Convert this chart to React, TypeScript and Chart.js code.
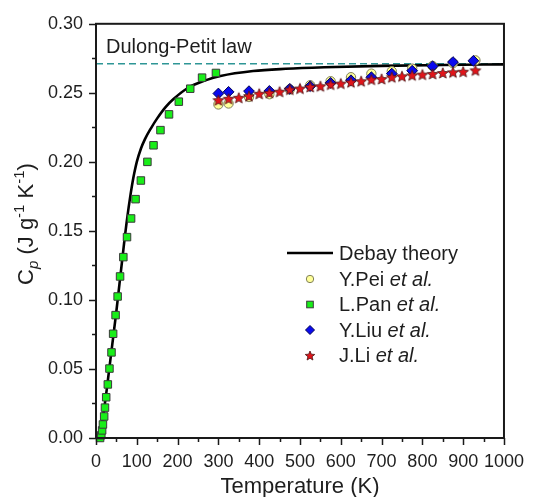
import React, { useEffect, useRef } from "react";
import { Chart, registerables } from "chart.js";

Chart.register(...registerables);

// ---------- data ----------
const debyeT = [0, 5, 10, 15, 20, 25, 30, 35, 40, 45, 50, 55, 60, 65, 70, 75, 80, 85, 90, 95, 100, 110, 120, 135, 150, 170, 190, 225, 270, 305, 385, 465, 560, 700, 850, 1000];
const debyeCp = [0, 0.0005, 0.004, 0.011, 0.021, 0.032, 0.044, 0.056, 0.068, 0.08, 0.092, 0.105, 0.118, 0.131, 0.144, 0.156, 0.167, 0.177, 0.186, 0.1935, 0.2, 0.2095, 0.2165, 0.2245, 0.2315, 0.2395, 0.2455, 0.2535, 0.2592, 0.2622, 0.2658, 0.2674, 0.2685, 0.2695, 0.2702, 0.2706];

const dulongPetitValue = 0.271;
const dulongPetitRange = [0, 1000];

const peiT = [300, 325, 375, 425, 475, 525, 575, 625, 675, 725, 775, 825, 875, 930];
const peiCp = [0.2416, 0.2423, 0.247, 0.249, 0.2525, 0.2555, 0.2584, 0.2613, 0.2639, 0.2656, 0.2675, 0.2695, 0.2715, 0.2735];

const panT = [10, 13, 15, 17, 20, 22, 25, 29, 33, 38, 42, 48, 53, 59, 67, 76, 86, 97, 110, 126, 141, 158, 179, 203, 231, 260, 294];
const panCp = [0.0, 0.002, 0.0055, 0.0098, 0.0156, 0.022, 0.0295, 0.0388, 0.0503, 0.062, 0.0755, 0.089, 0.1025, 0.117, 0.131, 0.1455, 0.159, 0.173, 0.1865, 0.2, 0.212, 0.223, 0.2344, 0.2436, 0.253, 0.261, 0.2644];

const liuT = [300, 325, 375, 425, 475, 525, 575, 625, 675, 725, 775, 825, 875, 925];
const liuCp = [0.2495, 0.2507, 0.2512, 0.2514, 0.2529, 0.2548, 0.2572, 0.2591, 0.2613, 0.2639, 0.266, 0.2692, 0.2723, 0.2732];

const liT = [300, 325, 350, 375, 400, 425, 450, 475, 500, 525, 550, 575, 600, 625, 650, 675, 700, 725, 750, 775, 800, 825, 850, 875, 900, 930];
const liCp = [0.2447, 0.2457, 0.2464, 0.2476, 0.2493, 0.25, 0.2508, 0.2524, 0.2531, 0.2543, 0.2548, 0.256, 0.2567, 0.2577, 0.2584, 0.2596, 0.26, 0.2613, 0.262, 0.2627, 0.2632, 0.2637, 0.2644, 0.2649, 0.2653, 0.2663];

const xTickValues = [0, 100, 200, 300, 400, 500, 600, 700, 800, 900, 1000];
const yTickValues = [0, 0.05, 0.1, 0.15, 0.2, 0.25, 0.3];

const legendNames = ["Debay theory", "Y.Pei", "L.Pan", "Y.Liu", "J.Li"];
const legendItalic = "et al.";
const xTitle = "Temperature (K)";
const dulongLabel = "Dulong-Petit law";

// ---------- styles ----------
const FONT = "'Liberation Sans', Arial, sans-serif";
const TEXT = "#1e1e1e";
const PEI_FILL = "#ffff99";
const PEI_EDGE = "#80805a";
const PAN_FILL = "#19ee19";
const PAN_EDGE = "#3a3a3a";
const LIU_FILL = "#0a0aee";
const LIU_EDGE = "#000055";
const LI_FILL = "#e0141a";
const LI_EDGE = "#4a1414";
const DP_COLOR = "#2e9696";

function pts(xs: number[], ys: number[]) {
  return xs.map((v, i) => ({ x: v, y: ys[i] }));
}

function drawStar(g: CanvasRenderingContext2D, cx: number, cy: number, r: number) {
  g.beginPath();
  for (let i = 0; i < 10; i++) {
    const rr = i % 2 === 0 ? r : r * 0.45;
    const ang = -Math.PI / 2 + (i * Math.PI) / 5;
    const px = cx + rr * Math.cos(ang);
    const py = cy + rr * Math.sin(ang);
    if (i === 0) g.moveTo(px, py);
    else g.lineTo(px, py);
  }
  g.closePath();
  g.fillStyle = LI_FILL;
  g.fill();
  g.lineWidth = 0.8;
  g.strokeStyle = LI_EDGE;
  g.stroke();
}

function makeStar(r: number) {
  const c = document.createElement("canvas");
  const s = Math.ceil(r * 2 + 4);
  c.width = s;
  c.height = s;
  const g = c.getContext("2d")!;
  drawStar(g, s / 2, s / 2 + 0.5, r);
  return c;
}

const decorPlugin = {
  id: "decor",
  afterDraw(chart: any) {
    const { ctx, chartArea: a } = chart;
    const xs = chart.scales.x;
    const ys = chart.scales.y;
    ctx.save();
    // frame
    ctx.strokeStyle = "#1a1a1a";
    ctx.lineWidth = 2;
    ctx.strokeRect(a.left, a.top, a.right - a.left, a.bottom - a.top);

    // ticks
    ctx.lineWidth = 1.5;
    ctx.beginPath();
    xTickValues.forEach((v, i) => {
      const px = Math.round(xs.getPixelForValue(v)) + 0.5;
      ctx.moveTo(px, a.bottom);
      ctx.lineTo(px, a.bottom + 7);
      if (i < xTickValues.length - 1) {
        const m = Math.round(xs.getPixelForValue((v + xTickValues[i + 1]) / 2)) + 0.5;
        ctx.moveTo(m, a.bottom);
        ctx.lineTo(m, a.bottom + 4);
      }
    });
    yTickValues.forEach((v, i) => {
      const py = Math.round(ys.getPixelForValue(v)) + 0.5;
      ctx.moveTo(a.left, py);
      ctx.lineTo(a.left - 7, py);
      if (i < yTickValues.length - 1) {
        const m = Math.round(ys.getPixelForValue((v + yTickValues[i + 1]) / 2)) + 0.5;
        ctx.moveTo(a.left, m);
        ctx.lineTo(a.left - 4, m);
      }
    });
    ctx.stroke();

    // x title
    ctx.fillStyle = TEXT;
    ctx.font = `22px ${FONT}`;
    ctx.textAlign = "center";
    ctx.textBaseline = "alphabetic";
    ctx.fillText(xTitle, (a.left + a.right) / 2, 493);

    // y title: C_p (J g^-1 K^-1)
    ctx.save();
    ctx.translate(33, 224);
    ctx.rotate(-Math.PI / 2);
    const big = `22px ${FONT}`;
    const sub = `italic 15px ${FONT}`;
    const sup = `15px ${FONT}`;
    const parts: [string, string, number][] = [
      ["C", big, 0],
      ["p", sub, 5],
      [" (J g", big, 0],
      ["-1", sup, -9],
      [" K", big, 0],
      ["-1", sup, -9],
      [")", big, 0],
    ];
    let total = 0;
    parts.forEach(([t, f]) => {
      ctx.font = f;
      total += ctx.measureText(t).width;
    });
    let cx = -total / 2;
    ctx.textAlign = "left";
    parts.forEach(([t, f, dy]) => {
      ctx.font = f;
      ctx.fillText(t, cx, dy);
      cx += ctx.measureText(t).width;
    });
    ctx.restore();

    // Dulong-Petit label
    ctx.font = `20px ${FONT}`;
    ctx.textAlign = "left";
    ctx.fillText(dulongLabel, 106, 53);

    // legend
    const lx = 310;
    const tx = 339;
    const rows = [253, 279, 304.5, 330, 355.5];
    ctx.textBaseline = "middle";
    ctx.strokeStyle = "#000";
    ctx.lineWidth = 2.6;
    ctx.beginPath();
    ctx.moveTo(287, rows[0]);
    ctx.lineTo(333, rows[0]);
    ctx.stroke();
    ctx.lineWidth = 1;
    ctx.beginPath();
    ctx.arc(lx, rows[1], 3.7, 0, Math.PI * 2);
    ctx.fillStyle = PEI_FILL;
    ctx.fill();
    ctx.strokeStyle = PEI_EDGE;
    ctx.stroke();
    ctx.fillStyle = PAN_FILL;
    ctx.fillRect(lx - 3.3, rows[2] - 3.3, 6.6, 6.6);
    ctx.strokeStyle = PAN_EDGE;
    ctx.strokeRect(lx - 3.3, rows[2] - 3.3, 6.6, 6.6);
    ctx.beginPath();
    ctx.moveTo(lx, rows[3] - 4.5);
    ctx.lineTo(lx + 4.5, rows[3]);
    ctx.lineTo(lx, rows[3] + 4.5);
    ctx.lineTo(lx - 4.5, rows[3]);
    ctx.closePath();
    ctx.fillStyle = LIU_FILL;
    ctx.fill();
    ctx.strokeStyle = LIU_EDGE;
    ctx.stroke();
    drawStar(ctx, lx, rows[4] + 0.5, 5);

    ctx.fillStyle = TEXT;
    legendNames.forEach((name, i) => {
      ctx.font = `20px ${FONT}`;
      ctx.fillText(name, tx, rows[i] + 1);
      if (i > 0) {
        const w = ctx.measureText(name + " ").width;
        ctx.font = `italic 20px ${FONT}`;
        ctx.fillText(legendItalic, tx + w, rows[i] + 1);
      }
    });
    ctx.restore();
  },
};

export default function App() {
  const ref = useRef<HTMLCanvasElement | null>(null);
  useEffect(() => {
    if (!ref.current) return;
    const star = makeStar(5.7);
    const chart = new Chart(ref.current, {
      type: "scatter",
      data: {
        datasets: [
          {
            label: "Dulong-Petit",
            data: dulongPetitRange.map((v) => ({ x: v, y: dulongPetitValue })),
            showLine: true,
            borderColor: DP_COLOR,
            borderWidth: 1.5,
            borderDash: [7, 4],
            pointRadius: 0,
            order: 10,
          },
          {
            label: "Debay theory",
            data: pts(debyeT, debyeCp),
            showLine: true,
            borderColor: "#000",
            borderWidth: 2.6,
            pointRadius: 0,
            cubicInterpolationMode: "monotone",
            order: 9,
          },
          {
            label: "Y.Pei",
            data: pts(peiT, peiCp),
            pointStyle: "circle",
            pointRadius: 4.7,
            backgroundColor: PEI_FILL,
            borderColor: PEI_EDGE,
            borderWidth: 1,
            clip: false,
            order: 8,
          },
          {
            label: "L.Pan",
            data: pts(panT, panCp),
            pointStyle: "rect",
            pointRadius: 5.3,
            backgroundColor: PAN_FILL,
            borderColor: PAN_EDGE,
            borderWidth: 1,
            clip: false,
            order: 7,
          },
          {
            label: "Y.Liu",
            data: pts(liuT, liuCp),
            pointStyle: "rectRot",
            pointRadius: 5.4,
            backgroundColor: LIU_FILL,
            borderColor: LIU_EDGE,
            borderWidth: 1,
            clip: false,
            order: 6,
          },
          {
            label: "J.Li",
            data: pts(liT, liCp),
            pointStyle: star as any,
            pointRadius: 5.7,
            clip: false,
            order: 5,
          },
        ] as any,
      },
      options: {
        animation: false,
        responsive: false,
        devicePixelRatio: 1,
        layout: { padding: { left: 0, right: 24, top: 21, bottom: 0 } },
        plugins: { legend: { display: false }, tooltip: { enabled: false } },
        scales: {
          x: {
            type: "linear",
            min: 0,
            max: 1000,
            grid: { display: false, drawTicks: false },
            border: { display: false },
            afterBuildTicks: (s: any) => {
              s.ticks = xTickValues.map((v) => ({ value: v }));
            },
            afterFit: (s: any) => {
              s.height = 59;
            },
            ticks: {
              padding: 13,
              color: TEXT,
              font: { family: FONT, size: 18 },
              maxRotation: 0,
              autoSkip: false,
              callback: (v: any) => String(v),
            },
          },
          y: {
            type: "linear",
            min: 0,
            max: 0.3,
            grid: { display: false, drawTicks: false },
            border: { display: false },
            afterBuildTicks: (s: any) => {
              s.ticks = yTickValues.map((v) => ({ value: v }));
            },
            afterFit: (s: any) => {
              s.width = 96;
            },
            ticks: {
              padding: 13,
              color: TEXT,
              font: { family: FONT, size: 18 },
              autoSkip: false,
              callback: (v: any) => Number(v).toFixed(2),
            },
          },
        },
      } as any,
      plugins: [decorPlugin],
    });
    return () => chart.destroy();
  }, []);
  return (
    <div style={{ position: "fixed", left: 0, top: 0, width: 537, height: 497, background: "#fff" }}>
      <canvas ref={ref} width={537} height={497} />
    </div>
  );
}
